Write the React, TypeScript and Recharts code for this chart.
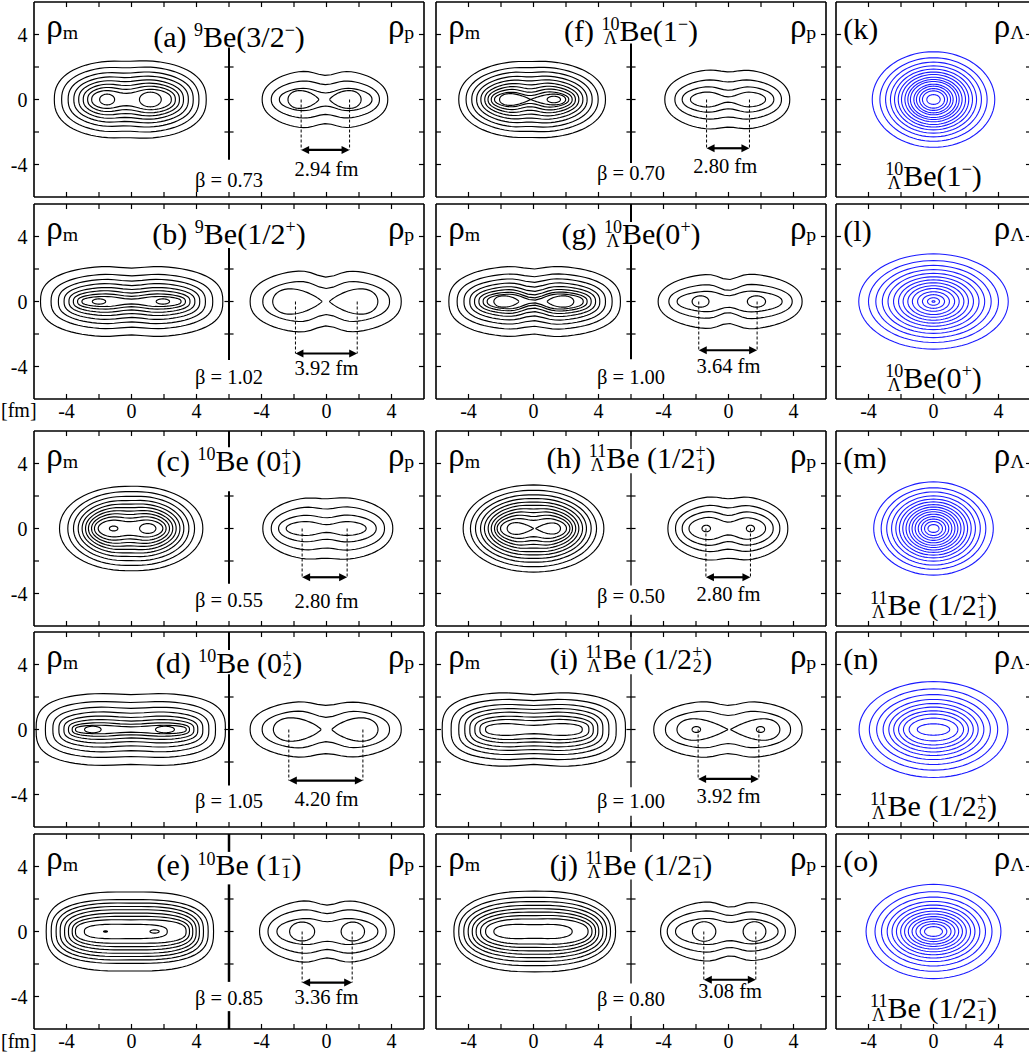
import React from "react";
import { LineChart, Line, XAxis, YAxis, ReferenceLine, ReferenceDot } from "recharts";

const SERIF = "'Liberation Serif', 'Times New Roman', Times, serif";
const INK = "#000";
const BLUE = "#1a1aff";
const STEPS = 80;

// contour: [left edge, right edge, half height over the lobes, half height at the neck]
// lobe: [centre, half width, half height, tip] (tip > 0 points right, < 0 left, 0 = plain oval)

// (a) 9Be(3/2-)
const massA = [
  [-4.75, 4.6, 2.42, 2.35], [-4.3, 4.15, 2.05, 1.95], [-3.9, 3.8, 1.75, 1.62], [-3.55, 3.5, 1.5, 1.35],
  [-3.25, 3.2, 1.28, 1.1], [-2.97, 2.95, 1.08, 0.86], [-2.7, 2.7, 0.9, 0.62], [-2.45, 2.45, 0.72, 0.38],
];
const massLobesA = [[-1.5, 0.46, 0.33, 0], [1.16, 0.67, 0.45, 0]];
const protonA = [[-3.96, 3.77, 1.85, 1.48], [-3.4, 3.26, 1.25, 0.92], [-2.9, 2.8, 0.8, 0.4]];
const protonLobesA = [[-1.42, 0.95, 0.55, 0.6], [1.16, 0.97, 0.55, -0.6]];
const dashA = [-1.56, 1.42];

// (b) 9Be(1/2+)
const massB = [
  [-5.6, 5.62, 2.2, 2.05], [-4.95, 5.0, 1.72, 1.58], [-4.5, 4.55, 1.42, 1.25], [-4.15, 4.2, 1.16, 0.98],
  [-3.85, 3.9, 0.92, 0.74], [-3.58, 3.6, 0.72, 0.52], [-3.32, 3.32, 0.52, 0.32], [-3.05, 3.05, 0.36, 0.15],
];
const massLobesB = [[-2.0, 0.41, 0.16, 0], [1.93, 0.41, 0.16, 0]];
const protonB = [[-4.7, 4.6, 1.98, 1.5], [-3.92, 3.88, 1.35, 0.8]];
const protonLobesB = [[-1.79, 1.52, 0.78, 0.8], [1.67, 1.49, 0.78, -0.8]];
const dashB = [-1.91, 1.89];

// (c) 10Be(0+1)
const massC = [
  [-4.43, 4.39, 2.62, 2.6], [-3.92, 3.88, 2.3, 2.27], [-3.57, 3.53, 2.03, 1.98], [-3.28, 3.22, 1.79, 1.72],
  [-3.04, 2.98, 1.58, 1.5], [-2.83, 2.75, 1.39, 1.28], [-2.65, 2.54, 1.21, 1.07], [-2.46, 2.34, 1.04, 0.86],
  [-2.28, 2.13, 0.86, 0.64], [-2.05, 1.93, 0.66, 0.42],
];
const massLobesC = [[-1.1, 0.26, 0.15, 0], [1.0, 0.5, 0.3, 0]];
const protonC = [[-3.92, 4.08, 1.97, 1.83], [-3.4, 3.57, 1.42, 1.2], [-2.95, 3.06, 0.92, 0.66], [-2.48, 2.44, 0.52, 0.24]];
const protonLobesC: number[][] = [];
const dashC = [-1.5, 1.27];

// (d) 10Be(0+2)
const massD = [
  [-5.87, 5.78, 2.25, 2.15], [-5.3, 5.17, 1.76, 1.66], [-4.84, 4.76, 1.42, 1.3], [-4.47, 4.39, 1.13, 1.0],
  [-4.16, 4.08, 0.88, 0.74], [-3.88, 3.84, 0.66, 0.52], [-3.65, 3.57, 0.46, 0.32], [-3.45, 3.37, 0.3, 0.16],
];
const massLobesD = [[-2.38, 0.51, 0.2, 0], [2.06, 0.58, 0.2, 0]];
const protonD = [[-4.7, 4.6, 1.8, 1.48], [-3.96, 3.88, 1.25, 0.75]];
const protonLobesD = [[-1.8, 1.47, 0.72, 0.7], [1.75, 1.42, 0.72, -0.7]];
const dashD = [-2.32, 2.24];

// (e) 10Be(1-1)
const massE = [
  [-5.25, 5.05, 2.45, 2.43], [-4.94, 4.72, 1.98, 1.96], [-4.64, 4.43, 1.77, 1.75], [-4.39, 4.18, 1.56, 1.54],
  [-4.12, 3.98, 1.36, 1.34], [-3.88, 3.77, 1.15, 1.13], [-3.65, 3.57, 0.95, 0.93], [-3.45, 3.36, 0.75, 0.72],
  [-2.9, 2.2, 0.47, 0.44],
];
const massLobesE = [[-1.6, 0.12, 0.04, 0], [1.42, 0.28, 0.1, 0]];
const protonE = [[-4.12, 4.18, 2.0, 1.62], [-3.6, 3.67, 1.45, 1.1], [-3.05, 3.16, 0.9, 0.6]];
const protonLobesE = [[-1.5, 0.77, 0.58, 0], [1.62, 0.72, 0.58, 0]];
const dashE = [-1.5, 1.58];

// (f) 10LBe(1-)
const massF = [
  [-4.6, 4.43, 2.38, 2.34], [-4.15, 3.98, 2.02, 1.96], [-3.8, 3.61, 1.75, 1.66], [-3.5, 3.3, 1.5, 1.39],
  [-3.24, 3.04, 1.28, 1.14], [-3.0, 2.79, 1.08, 0.9], [-2.8, 2.58, 0.9, 0.66], [-2.6, 2.38, 0.73, 0.44],
  [-2.4, 2.17, 0.55, 0.24],
];
const massLobesF = [[-1.13, 0.96, 0.36, 1], [0.9, 1.08, 0.33, -1], [1.25, 0.41, 0.2, 0]];
const protonF = [[-3.92, 3.77, 1.9, 1.7], [-3.3, 3.26, 1.3, 1.08], [-2.85, 2.79, 0.88, 0.57], [-2.34, 2.28, 0.57, 0.16]];
const protonLobesF: number[][] = [];
const dashF = [-1.35, 1.29];

// (g) 10LBe(0+)
const massG = [
  [-5.21, 5.35, 2.2, 2.0], [-4.7, 4.84, 1.75, 1.52], [-4.28, 4.43, 1.45, 1.18], [-3.92, 4.08, 1.2, 0.88],
  [-3.63, 3.82, 0.98, 0.62], [-3.36, 3.55, 0.8, 0.4], [-3.1, 3.3, 0.64, 0.22], [-2.85, 3.06, 0.52, 0.08],
];
const massLobesG = [[-1.67, 0.77, 0.35, 0.5], [1.66, 0.82, 0.35, -0.5]];
const protonG = [[-4.33, 4.53, 1.75, 1.35], [-3.67, 3.92, 1.12, 0.68], [-3.16, 3.3, 0.7, 0.35]];
const protonLobesG = [[-1.72, 0.52, 0.35, 0], [1.72, 0.56, 0.35, 0]];
const dashG = [-1.83, 1.76];

// (h) 11LBe(1/2+1)
const massH = [
  [-4.33, 4.33, 2.68, 2.68], [-3.88, 3.88, 2.36, 2.35], [-3.57, 3.55, 2.09, 2.07], [-3.26, 3.26, 1.87, 1.84],
  [-3.02, 3.02, 1.66, 1.62], [-2.79, 2.79, 1.48, 1.42], [-2.6, 2.6, 1.29, 1.2], [-2.4, 2.4, 1.11, 0.98],
  [-2.24, 2.24, 0.92, 0.74], [-2.03, 2.03, 0.72, 0.5],
];
const massLobesH = [[-0.8, 0.82, 0.36, 1], [0.89, 0.77, 0.34, -1]];
const protonH = [[-3.73, 3.65, 2.03, 1.83], [-3.26, 3.16, 1.52, 1.27], [-2.85, 2.75, 1.15, 0.8], [-2.43, 2.28, 0.8, 0.39]];
const protonLobesH = [[-1.37, 0.26, 0.2, 0], [1.35, 0.25, 0.2, 0]];
const dashH = [-1.39, 1.35];

// (i) 11LBe(1/2+2)
const massI = [
  [-5.62, 5.66, 2.3, 2.15], [-5.07, 5.09, 1.89, 1.78], [-4.6, 4.64, 1.58, 1.48], [-4.23, 4.27, 1.33, 1.23],
  [-3.92, 3.96, 1.11, 1.0], [-3.61, 3.68, 0.86, 0.76], [-3.3, 3.41, 0.66, 0.55], [-2.95, 3.0, 0.41, 0.25],
];
const massLobesI: number[][] = [];
const protonI = [[-4.6, 4.53, 1.8, 1.48], [-3.88, 3.82, 1.22, 0.86]];
const protonLobesI = [[-1.6, 1.57, 0.66, 1], [1.64, 1.52, 0.66, -1], [-1.98, 0.26, 0.18, 0], [1.97, 0.25, 0.18, 0]];
const dashI = [-1.87, 1.87];

// (j) 11LBe(1/2-1)
const massJ = [
  [-4.9, 5.05, 2.5, 2.48], [-4.6, 4.74, 2.12, 2.1], [-4.29, 4.5, 1.86, 1.84], [-4.02, 4.27, 1.63, 1.61],
  [-3.77, 4.02, 1.42, 1.4], [-3.53, 3.82, 1.22, 1.19], [-3.26, 3.6, 1.02, 0.98], [-2.95, 3.36, 0.82, 0.77],
  [-2.44, 2.38, 0.5, 0.42],
];
const massLobesJ: number[][] = [];
const protonJ = [[-4.18, 4.12, 1.92, 1.5], [-3.77, 3.5, 1.35, 0.98], [-3.26, 3.05, 0.88, 0.56]];
const protonLobesJ = [[-1.5, 0.72, 0.6, 0], [1.6, 0.7, 0.6, 0]];
const dashJ = [-1.52, 1.68];

// Lambda densities: [half width, half height]
const lambdaK = [[3.77, 2.94], [3.3, 2.57], [2.95, 2.3], [2.65, 2.07], [2.4, 1.87], [2.17, 1.69], [1.97, 1.54], [1.76, 1.37], [1.58, 1.23], [1.42, 1.11], [1.21, 0.94], [1.05, 0.82], [0.86, 0.67], [0.68, 0.53], [0.41, 0.3]];
const lambdaL = [[4.6, 2.93], [4.0, 2.52], [3.55, 2.22], [3.15, 1.96], [2.8, 1.73], [2.46, 1.52], [2.15, 1.33], [1.87, 1.15], [1.58, 0.97], [1.3, 0.8], [0.98, 0.6], [0.68, 0.42], [0.37, 0.23], [0.09, 0.05]];
const lambdaM = [[3.68, 2.87], [3.22, 2.51], [2.88, 2.25], [2.58, 2.01], [2.32, 1.81], [2.1, 1.64], [1.89, 1.47], [1.69, 1.32], [1.5, 1.17], [1.32, 1.03], [1.13, 0.88], [0.94, 0.73], [0.75, 0.58], [0.55, 0.43], [0.34, 0.24]];
const lambdaN = [[4.58, 2.95], [3.95, 2.5], [3.5, 2.15], [3.1, 1.85], [2.75, 1.6], [2.45, 1.38], [2.15, 1.15], [1.85, 0.95], [1.5, 0.7], [1.0, 0.35]];
const lambdaO = [[4.15, 2.9], [3.6, 2.45], [3.2, 2.12], [2.85, 1.85], [2.55, 1.63], [2.28, 1.43], [2.02, 1.25], [1.78, 1.08], [1.55, 0.92], [1.32, 0.77], [1.08, 0.62], [0.82, 0.47], [0.55, 0.3]];

const pairTicks = [-4, -2, 0, 2, 4, 6, 8, 10, 12, 14, 16];
const sideTicks = [-4, -2, 0, 2, 4];

type Seg = string | string[];
const titleA: Seg[] = ["(a) ", ["^", "9"], "Be(3/2", ["^", "−"], ")"];
const titleB: Seg[] = ["(b) ", ["^", "9"], "Be(1/2", ["^", "+"], ")"];
const titleC: Seg[] = ["(c) ", ["^", "10"], "Be (0", ["s", "+", "1"], ")"];
const titleD: Seg[] = ["(d) ", ["^", "10"], "Be (0", ["s", "+", "2"], ")"];
const titleE: Seg[] = ["(e) ", ["^", "10"], "Be (1", ["s", "−", "1"], ")"];
const titleF: Seg[] = ["(f) ", ["s", "10", "Λ"], "Be(1", ["^", "−"], ")"];
const titleG: Seg[] = ["(g) ", ["s", "10", "Λ"], "Be(0", ["^", "+"], ")"];
const titleH: Seg[] = ["(h) ", ["s", "11", "Λ"], "Be (1/2", ["s", "+", "1"], ")"];
const titleI: Seg[] = ["(i) ", ["s", "11", "Λ"], "Be (1/2", ["s", "+", "2"], ")"];
const titleJ: Seg[] = ["(j) ", ["s", "11", "Λ"], "Be (1/2", ["s", "−", "1"], ")"];

const ROW_TOP = [1.5, 203.5, 430.5, 631.5, 833.5];
const COL_LEFT = [34, 435.5, 835.5];

const pairs = [
  { id: "a", row: 0, col: 0, title: titleA, titleY: 3.25, mass: massA, massLobes: massLobesA, mShape: { n: 2.4, xw: -0.3, s: 1.0 }, proton: protonA, protonLobes: protonLobesA, pShape: { n: 2.2, xw: -0.05, s: 0.9 }, dash: dashA, arrowY: -3.1, fm: "2.94 fm", fmX: 0, fmY: -4.68, beta: "β = 0.73", betaY: -5.4, divider: [[3.2, -3.7]], divW: 2 },
  { id: "b", row: 1, col: 0, title: titleB, titleY: 3.55, mass: massB, massLobes: massLobesB, mShape: { n: 2.6, xw: 0, s: 1.1 }, proton: protonB, protonLobes: protonLobesB, pShape: { n: 2.3, xw: 0, s: 1.0 }, dash: dashB, arrowY: -3.2, fm: "3.92 fm", fmX: 0, fmY: -4.55, beta: "β = 1.02", betaY: -5.05, divider: [[3.3, -3.6]], divW: 2 },
  { id: "c", row: 2, col: 0, title: titleC, titleY: 3.55, mass: massC, massLobes: massLobesC, mShape: { n: 2.1, xw: -0.1, s: 0.9 }, proton: protonC, protonLobes: protonLobesC, pShape: { n: 2.2, xw: 0, s: 0.9 }, dash: dashC, arrowY: -3.0, fm: "2.80 fm", fmX: 0, fmY: -4.9, beta: "β = 0.55", betaY: -4.85, divider: [[6, 5.0], [2.3, -3.4]], divW: 2 },
  { id: "d", row: 3, col: 0, title: titleD, titleY: 3.5, mass: massD, massLobes: massLobesD, mShape: { n: 3.0, xw: 0, s: 1.4 }, proton: protonD, protonLobes: protonLobesD, pShape: { n: 2.3, xw: 0, s: 1.1 }, dash: dashD, arrowY: -3.14, fm: "4.20 fm", fmX: 0, fmY: -4.68, beta: "β = 1.05", betaY: -4.8, divider: [[6, 4.9], [3.4, -3.45]], divW: 2 },
  { id: "e", row: 4, col: 0, title: titleE, titleY: 3.45, mass: massE, massLobes: massLobesE, mShape: { n: 2.8, xw: 0, s: 1.5 }, proton: protonE, protonLobes: protonLobesE, pShape: { n: 2.2, xw: 0.05, s: 0.9 }, dash: dashE, arrowY: -3.14, fm: "3.36 fm", fmX: 0, fmY: -4.45, beta: "β = 0.85", betaY: -4.55, divider: [[6, 4.9], [2.9, -3.1], [-4.9, -6]], divW: 2.5 },
  { id: "f", row: 0, col: 1, title: titleF, titleY: 3.6, mass: massF, massLobes: massLobesF, mShape: { n: 2.2, xw: -0.2, s: 0.8 }, proton: protonF, protonLobes: protonLobesF, pShape: { n: 2.2, xw: 0, s: 0.85 }, dash: dashF, arrowY: -3.0, fm: "2.80 fm", fmX: -0.2, fmY: -4.5, beta: "β = 0.70", betaY: -4.98, divider: [[3.45, -3.9]], divW: 2 },
  { id: "g", row: 1, col: 1, title: titleG, titleY: 3.55, mass: massG, massLobes: massLobesG, mShape: { n: 2.5, xw: 0, s: 0.9 }, proton: protonG, protonLobes: protonLobesG, pShape: { n: 2.2, xw: 0, s: 0.8 }, dash: dashG, arrowY: -3.0, fm: "3.64 fm", fmX: 0, fmY: -4.4, beta: "β = 1.00", betaY: -5.05, divider: [[6, 4.9], [3.5, -3.55]], divW: 2 },
  { id: "h", row: 2, col: 1, title: titleH, titleY: 3.75, mass: massH, massLobes: massLobesH, mShape: { n: 2.05, xw: 0, s: 0.7 }, proton: protonH, protonLobes: protonLobesH, pShape: { n: 2.2, xw: 0, s: 0.8 }, dash: dashH, arrowY: -3.0, fm: "2.80 fm", fmX: 0, fmY: -4.45, beta: "β = 0.50", betaY: -4.6, divider: [[6, 4.9], [3.4, -3.5], [-5.3, -6]], divW: 1.3 },
  { id: "i", row: 3, col: 1, title: titleI, titleY: 3.75, mass: massI, massLobes: massLobesI, mShape: { n: 3.0, xw: 0, s: 1.2 }, proton: protonI, protonLobes: protonLobesI, pShape: { n: 2.3, xw: 0, s: 1.0 }, dash: dashI, arrowY: -3.04, fm: "3.92 fm", fmX: 0, fmY: -4.55, beta: "β = 1.00", betaY: -4.8, divider: [[6, 4.9], [3.4, -3.55], [-5.3, -6]], divW: 1.3 },
  { id: "j", row: 4, col: 1, title: titleJ, titleY: 3.5, mass: massJ, massLobes: massLobesJ, mShape: { n: 2.4, xw: 0, s: 1.2 }, proton: protonJ, protonLobes: protonLobesJ, pShape: { n: 2.2, xw: 0.1, s: 0.9 }, dash: dashJ, arrowY: -2.97, fm: "3.08 fm", fmX: 0.1, fmY: -4.1, beta: "β = 0.80", betaY: -4.6, divider: [[6, 4.9], [3.2, -3.2], [-5.2, -6]], divW: 1.3 },
];

const lambdas = [
  { id: "k", row: 0, tag: "(k)", rings: lambdaK, label: [["s", "10", "Λ"], "Be(1", ["^", "−"], ")"] },
  { id: "l", row: 1, tag: "(l)", rings: lambdaL, label: [["s", "10", "Λ"], "Be(0", ["^", "+"], ")"] },
  { id: "m", row: 2, tag: "(m)", rings: lambdaM, label: [["s", "11", "Λ"], "Be (1/2", ["s", "+", "1"], ")"] },
  { id: "n", row: 3, tag: "(n)", rings: lambdaN, label: [["s", "11", "Λ"], "Be (1/2", ["s", "+", "2"], ")"] },
  { id: "o", row: 4, tag: "(o)", rings: lambdaO, label: [["s", "11", "Λ"], "Be (1/2", ["s", "−", "1"], ")"] },
];

const GLYPH: Record<string, number> = { "Λ": 0.72, "+": 0.56, "−": 0.56 };
const widthOf = (s: string) => Array.from(s).reduce((t, ch) => t + (GLYPH[ch] ?? 0.5), 0);

function Rich({ x, y, segs, size, anchor = "middle", fill = INK }: any) {
  const sm = size * 0.6;
  const up = -size * 0.36;
  const dn = size * 0.1;
  const out: any[] = [];
  let cur = 0;
  let pend = 0;
  const push = (txt: string, dy: number, fs: number, dx = 0) => {
    out.push(
      <tspan key={out.length} dy={dy} dx={dx + pend} fontSize={fs}>
        {txt}
      </tspan>
    );
    pend = 0;
  };
  segs.forEach((s: Seg) => {
    if (typeof s === "string") {
      push(s, -cur, size);
      cur = 0;
    } else if (s[0] === "^") {
      push(s[1], up - cur, sm);
      cur = up;
    } else if (s[0] === "_") {
      push(s[1], size * 0.06 - cur, size * 0.6);
      cur = size * 0.06;
    } else {
      const wt = widthOf(s[1]) * sm;
      const wb = widthOf(s[2]) * sm;
      const wm = Math.max(wt, wb);
      const a0 = 0.5 * (wm - wt);
      const b0 = 0.5 * (wm - wb);
      push(s[1], up - cur, sm, a0);
      push(s[2], dn - up, sm, -(a0 + wt) + b0);
      cur = dn;
      pend = wm - (b0 + wb);
    }
  });
  return (
    <text x={x} y={y} textAnchor={anchor} fontFamily={SERIF} fill={fill} style={{ whiteSpace: "pre" }}>
      {out}
    </text>
  );
}

function blob(c: number[], sh: any, dx: number) {
  const [L, R, H, W] = c;
  const xm = (L + R) / 2;
  const a = (R - L) / 2;
  const e = 2 / sh.n;
  const pts = [];
  for (let i = 0; i <= STEPS; i++) {
    const t = (2 * Math.PI * i) / STEPS;
    const u = Math.cos(t);
    const v = Math.sin(t);
    const x = xm + a * Math.sign(u) * Math.abs(u) ** e;
    const g = Math.exp(-(((x - sh.xw) / sh.s) ** 2));
    const y = H * Math.sign(v) * Math.abs(v) ** e * (1 - (1 - W / H) * g);
    pts.push({ x: x + dx, y });
  }
  return pts;
}

function lobe(c: number[], dx: number) {
  const [cx, rx, ry, tip] = c;
  const dir = tip < 0 ? -1 : 1;
  const raw = [];
  for (let i = 0; i <= STEPS; i++) {
    const t = (2 * Math.PI * i) / STEPS;
    const y = tip === 0 ? Math.sin(t) : Math.sin(t) * Math.sin(t / 2) ** Math.abs(tip);
    raw.push({ x: cx + dir * rx * Math.cos(t) + dx, y });
  }
  const top = Math.max(...raw.map((p) => Math.abs(p.y)));
  return raw.map((p) => ({ x: p.x, y: (p.y / top) * ry }));
}

function oval(c: number[]) {
  const pts = [];
  for (let i = 0; i <= STEPS; i++) {
    const t = (2 * Math.PI * i) / STEPS;
    pts.push({ x: c[0] * Math.cos(t), y: c[1] * Math.sin(t) });
  }
  return pts;
}

const ring = (key: string, pts: any[], color: string, w: number) => (
  <Line
    key={key}
    data={pts}
    dataKey="y"
    xAxisId="b"
    yAxisId="l"
    type="linear"
    stroke={color}
    strokeWidth={w}
    dot={false}
    activeDot={false}
    isAnimationActive={false}
  />
);

const seg = (key: string, x1: number, y1: number, x2: number, y2: number, w: number, extra: any = {}) => (
  <ReferenceLine
    key={key}
    xAxisId="b"
    yAxisId="l"
    ifOverflow="visible"
    segment={[{ x: x1, y: y1 }, { x: x2, y: y2 }]}
    stroke={INK}
    strokeWidth={w}
    {...extra}
  />
);

const note = (key: string, x: number, y: number, segs: Seg[], size: number, anchor = "middle") => (
  <ReferenceDot
    key={key}
    xAxisId="b"
    yAxisId="l"
    x={x}
    y={y}
    r={1}
    ifOverflow="visible"
    shape={(p: any) => <Rich x={p.cx} y={p.cy} segs={segs} size={size} anchor={anchor} />}
  />
);

function arrowShape(props: any) {
  const { x1, y1, x2, y2 } = props;
  const h = 8;
  const w = 4;
  return (
    <g>
      <line x1={x1 + h - 1} y1={y1} x2={x2 - h + 1} y2={y2} stroke={INK} strokeWidth={2.2} />
      <path d={`M${x1},${y1}L${x1 + h},${y1 - w}L${x1 + h},${y1 + w}Z`} fill={INK} />
      <path d={`M${x2},${y2}L${x2 - h},${y2 - w}L${x2 - h},${y2 + w}Z`} fill={INK} />
    </g>
  );
}

// box and inward ticks drawn in data units (5px ticks = 0.31)
function frameMarks(domain: number[], xticks: number[]) {
  const [x0, x1] = domain;
  const k = 0.31;
  const out = [
    seg("fb", x0, -6, x1, -6, 1.6),
    seg("ft", x0, 6, x1, 6, 1.6),
    seg("fl", x0, -6, x0, 6, 1.6),
    seg("fr", x1, -6, x1, 6, 1.6),
  ];
  xticks.forEach((t) => {
    out.push(seg(`tb${t}`, t, -6, t, -6 + k, 1.2));
    out.push(seg(`tt${t}`, t, 6, t, 6 - k, 1.2));
  });
  sideTicks.forEach((t) => {
    out.push(seg(`tl${t}`, x0, t, x0 + k, t, 1.2));
    out.push(seg(`tr${t}`, x1, t, x1 - k, t, 1.2));
  });
  return out;
}

const pairTick = (v: number) =>
  v === -4 || v === 0 || v === 4 ? String(v) : v === 8 || v === 12 || v === 16 ? String(v - 12) : "";
const sideTick = (v: number) => (v % 4 === 0 ? String(v) : "");
const tickFont = { fill: INK, fontSize: 20, fontFamily: SERIF };

function Frame({ width, height, left, top, domain, xticks, xfmt, labels, yw, ml, children }: any) {
  return (
    <div style={{ position: "absolute", left, top }}>
      <LineChart width={width} height={height} margin={{ top: 1, right: 3, bottom: labels ? 0 : 2, left: ml }}>
        <XAxis
          xAxisId="b"
          dataKey="x"
          type="number"
          domain={domain}
          allowDataOverflow
          ticks={xticks}
          interval={0}
          tickSize={0}
          tickMargin={4.5}
          tickFormatter={xfmt}
          tick={labels ? tickFont : false}
          height={labels ? 26 : 0}
          axisLine={false}
          tickLine={false}
        />
        <YAxis
          yAxisId="l"
          type="number"
          domain={[-6, 6]}
          allowDataOverflow
          ticks={sideTicks}
          interval={0}
          tickSize={0}
          tickMargin={6.5}
          tickFormatter={sideTick}
          tick={yw > 0 ? tickFont : false}
          width={yw}
          axisLine={false}
          tickLine={false}
        />
        {frameMarks(domain, xticks)}
        {children}
      </LineChart>
    </div>
  );
}

function PairPanel({ p }: any) {
  const first = p.col === 0;
  const labels = p.row === 1 || p.row === 4;
  const yw = first ? 34 : 0;
  const ml = first ? 0 : 1;
  const items: any[] = [];
  p.mass.forEach((c: number[], i: number) => items.push(ring(`m${i}`, blob(c, p.mShape, 0), INK, 1.15)));
  p.massLobes.forEach((c: number[], i: number) => items.push(ring(`ml${i}`, lobe(c, 0), INK, 1.15)));
  p.proton.forEach((c: number[], i: number) => items.push(ring(`p${i}`, blob(c, p.pShape, 12), INK, 1.15)));
  p.protonLobes.forEach((c: number[], i: number) => items.push(ring(`pl${i}`, lobe(c, 12), INK, 1.15)));
  const divs: any[] = [];
  p.divider.forEach(([a, b]: number[], i: number) => {
    divs.push(seg(`dv${i}`, 6, a, 6, b, p.divW));
    sideTicks
      .filter((t) => t < a && t > b)
      .forEach((t) => divs.push(seg(`dt${i}${t}`, 5.72, t, 6.28, t, 1.2)));
  });
  return (
    <Frame
      width={ml + yw + 390 + 3}
      height={1 + 195 + (labels ? 26 : 2)}
      left={COL_LEFT[p.col] - yw - ml}
      top={ROW_TOP[p.row] - 1}
      domain={[-6, 18]}
      xticks={pairTicks}
      xfmt={pairTick}
      labels={labels}
      yw={yw}
      ml={ml}
    >
      {divs}
      {items}
      {p.dash.map((d: number, i: number) =>
        seg(`dash${i}`, d + 12, 0, d + 12, p.arrowY, 1, { strokeDasharray: "3 2" })
      )}
      <ReferenceLine
        xAxisId="b"
        yAxisId="l"
        ifOverflow="visible"
        segment={[{ x: p.dash[0] + 12, y: p.arrowY }, { x: p.dash[1] + 12, y: p.arrowY }]}
        shape={arrowShape}
      />
      {note("title", 6, p.titleY, p.title, 30)}
      {note("rm", -5.25, 3.85, ["ρ", ["_", "m"]], 33, "start")}
      {note("rp", 17.4, 3.85, ["ρ", ["_", "p"]], 33, "end")}
      {note("beta", 6, p.betaY, [p.beta], 20.5)}
      {note("fm", p.fmX + 12, p.fmY, [p.fm], 20.5)}
    </Frame>
  );
}

function LambdaPanel({ p }: any) {
  const labels = p.row === 1 || p.row === 4;
  return (
    <Frame
      width={1 + 195 + 3}
      height={1 + 195 + (labels ? 26 : 2)}
      left={COL_LEFT[2] - 1}
      top={ROW_TOP[p.row] - 1}
      domain={[-6, 6]}
      xticks={sideTicks}
      xfmt={sideTick}
      labels={labels}
      yw={0}
      ml={1}
    >
      {p.rings.map((c: number[], i: number) => ring(`l${i}`, oval(c), BLUE, 1.1))}
      {note("tag", -5.55, 3.75, [p.tag], 30, "start")}
      {note("rl", 5.6, 3.85, ["ρ", ["_", "Λ"]], 33, "end")}
      {note("lab", 0, -5.3, p.label, 30)}
    </Frame>
  );
}

function FmTag({ top }: { top: number }) {
  return (
    <svg style={{ position: "absolute", left: 0, top }} width={38} height={24}>
      <text x={1} y={17} fontFamily={SERIF} fontSize={20} fill={INK}>
        [fm]
      </text>
    </svg>
  );
}

export default function App() {
  return (
    <div
      style={{
        position: "fixed",
        left: 0,
        top: 0,
        width: 1029,
        height: 1057,
        overflow: "hidden",
        background: "#fff",
      }}
    >
      {pairs.map((p) => (
        <PairPanel key={p.id} p={p} />
      ))}
      {lambdas.map((p) => (
        <LambdaPanel key={p.id} p={p} />
      ))}
      <FmTag top={400} />
      <FmTag top={1031} />
    </div>
  );
}
